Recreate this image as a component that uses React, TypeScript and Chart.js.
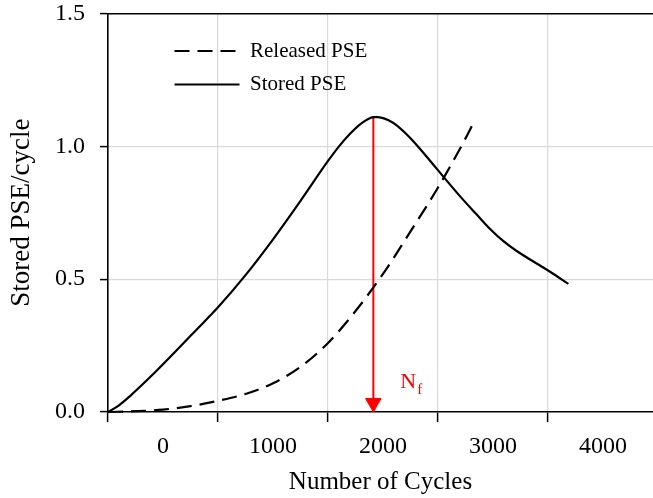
import { useEffect, useRef } from 'react';
import { Chart, registerables } from 'chart.js';

Chart.register(...registerables);

// ---- data ----
const releasedX = [-500, -250, 0, 250, 500, 750, 1000, 1250, 1500, 1750, 2000, 2250, 2500, 2750, 2836];
const releasedY = [0, 0.003, 0.009, 0.022, 0.042, 0.068, 0.108, 0.17, 0.26, 0.38, 0.52, 0.68, 0.845, 1.03, 1.1];

const storedX = [-500, -400, -300, -100, 100, 300, 500, 750, 1000, 1250, 1500, 1600, 1700, 1780, 1840, 1880, 1912, 1950, 2000, 2050, 2124, 2200, 2275, 2427, 2548, 2715, 2850, 2973, 3100, 3215, 3518, 3685];
const storedY = [0, 0.025, 0.06, 0.138, 0.222, 0.308, 0.394, 0.515, 0.65, 0.795, 0.945, 1.0, 1.047, 1.079, 1.097, 1.106, 1.11, 1.11, 1.106, 1.098, 1.079, 1.051, 1.019, 0.946, 0.886, 0.805, 0.744, 0.689, 0.641, 0.606, 0.528, 0.482];

const nfCycles = 1912;
const arrowY = [1.11, 0.034, 0];

const seriesLabels = ['Released PSE', 'Stored PSE'];
const xTitle = 'Number of Cycles';
const yTitle = 'Stored PSE/cycle';
const nfMain = 'N';
const nfSub = 'f';

const xTickValues = [-500, 0, 500, 1000, 1500, 2000, 2500, 3000, 3500, 4000];
const xLabelStep = 1000;
const xMin = -500;
const xMax = 4454;
const yTickValues = [0, 0.5, 1.0, 1.5];
const yMin = 0;
const yMax = 1.5;

const FONT = 'Liberation Serif';

const toPts = (xs: number[], ys: number[]) => xs.map((x, i) => ({ x, y: ys[i] }));
const isLabelTick = (v: number) => Math.abs(v % xLabelStep) < 1e-6;

export default function App() {
  const ref = useRef<HTMLCanvasElement | null>(null);

  useEffect(() => {
    if (!ref.current) return;

    const legendShift = {
      id: 'legendShift',
      afterUpdate(chart: any) {
        const lg = chart.legend;
        if (!lg) return;
        lg.left = 162;
        lg.top = 28;
      },
    };

    const nfLabel = {
      id: 'nfLabel',
      afterDatasetsDraw(chart: any) {
        const { ctx, scales } = chart;
        const px = scales.x.getPixelForValue(nfCycles) + 27;
        const py = scales.y.getPixelForValue(0) - 24;
        ctx.save();
        ctx.fillStyle = '#ff0000';
        ctx.textBaseline = 'alphabetic';
        ctx.textAlign = 'left';
        ctx.font = `22px "${FONT}"`;
        ctx.fillText(nfMain, px, py);
        const w = ctx.measureText(nfMain).width;
        ctx.font = `15px "${FONT}"`;
        ctx.fillText(nfSub, px + w + 1, py + 6);
        ctx.restore();
      },
    };

    const chart = new Chart(ref.current, {
      type: 'line',
      data: {
        datasets: [
          {
            label: seriesLabels[0],
            data: toPts(releasedX, releasedY),
            borderColor: '#000',
            borderWidth: 2.2,
            borderDash: [15, 8],
            pointRadius: 0,
            cubicInterpolationMode: 'monotone',
            fill: false,
            clip: false as any,
          },
          {
            label: seriesLabels[1],
            data: toPts(storedX, storedY),
            borderColor: '#000',
            borderWidth: 2.2,
            pointRadius: 0,
            cubicInterpolationMode: 'monotone',
            fill: false,
            clip: false as any,
          },
          {
            label: 'Nf',
            data: arrowY.map((y) => ({ x: nfCycles, y })),
            borderColor: '#ff0000',
            backgroundColor: '#ff0000',
            borderWidth: 2,
            tension: 0,
            pointStyle: 'triangle',
            pointRadius: [0, 9, 0],
            pointRotation: 180,
            pointBackgroundColor: '#ff0000',
            pointBorderColor: '#ff0000',
            pointBorderWidth: 1,
            fill: false,
            clip: false as any,
          } as any,
        ],
      },
      options: {
        animation: false,
        responsive: true,
        maintainAspectRatio: false,
        events: [],
        layout: { padding: { left: 0, right: 0, top: 0, bottom: 0 } },
        plugins: {
          tooltip: { enabled: false },
          legend: {
            display: true,
            position: 'chartArea' as any,
            fullSize: false,
            align: 'start',
            labels: {
              usePointStyle: true,
              pointStyle: 'line',
              pointStyleWidth: 65,
              padding: 12.5,
              color: '#000',
              font: { family: FONT, size: 21 },
              generateLabels: (ch: any) =>
                ch.data.datasets.slice(0, 2).map((ds: any, i: number) => ({
                  text: ds.label,
                  fillStyle: '#000',
                  strokeStyle: '#000',
                  fontColor: '#000',
                  lineWidth: 2.2,
                  lineDash: ds.borderDash || [],
                  pointStyle: 'line',
                  hidden: false,
                  datasetIndex: i,
                })),
            },
          },
        },
        scales: {
          x: {
            type: 'linear',
            position: 'bottom',
            min: xMin,
            max: xMax,
            bounds: 'data',
            afterBuildTicks: (scale: any) => {
              scale.ticks = xTickValues.map((v) => ({ value: v }));
            },
            afterFit: (scale: any) => {
              scale.height = 86;
            },
            ticks: {
              autoSkip: false,
              maxRotation: 0,
              color: '#000',
              padding: 10,
              font: { family: FONT, size: 24 },
              callback: (v: any) => (isLabelTick(Number(v)) ? String(v) : ''),
            },
            grid: {
              color: (c: any) => {
                const v = c.tick ? c.tick.value : NaN;
                return isLabelTick(v) ? 'rgba(0,0,0,0)' : '#d9d9d9';
              },
              tickColor: (c: any) => {
                const v = c.tick ? c.tick.value : NaN;
                return isLabelTick(v) ? 'rgba(0,0,0,0)' : '#000';
              },
              tickLength: 10,
              lineWidth: 1.2,
              tickWidth: 1.5,
            },
            border: { color: '#000', width: 1.6 },
            title: {
              display: true,
              text: xTitle,
              color: '#000',
              font: { family: FONT, size: 25 },
              padding: { top: 5, bottom: 1 },
            },
          },
          xTop: {
            type: 'linear',
            position: 'top',
            min: xMin,
            max: xMax,
            ticks: { display: false },
            grid: { display: false, drawTicks: false },
            border: { display: true, color: '#000', width: 1.6 },
          },
          y: {
            type: 'linear',
            min: yMin,
            max: yMax,
            afterBuildTicks: (scale: any) => {
              scale.ticks = yTickValues.map((v) => ({ value: v }));
            },
            afterFit: (scale: any) => {
              scale.width = 108;
              scale.paddingTop = 13.5;
              scale.paddingBottom = 0;
            },
            ticks: {
              color: '#000',
              padding: 15,
              font: { family: FONT, size: 24 },
              callback: (v: any) => Number(v).toFixed(1),
            },
            grid: {
              color: (c: any) => {
                const v = c.tick ? c.tick.value : NaN;
                return v === yMin || v === yMax ? 'rgba(0,0,0,0)' : '#d9d9d9';
              },
              tickColor: '#000',
              tickLength: 8,
              lineWidth: 1.2,
              tickWidth: 1.5,
            },
            border: { color: '#000', width: 1.6 },
            title: {
              display: true,
              text: yTitle,
              color: '#000',
              font: { family: FONT, size: 27 },
              padding: { top: 6, bottom: 10 },
            },
          },
        },
      } as any,
      plugins: [legendShift, nfLabel],
    });

    return () => chart.destroy();
  }, []);

  return (
    <div style={{ position: 'fixed', left: 0, top: 0, width: 653, height: 498, background: '#fff' }}>
      <canvas ref={ref} />
    </div>
  );
}
